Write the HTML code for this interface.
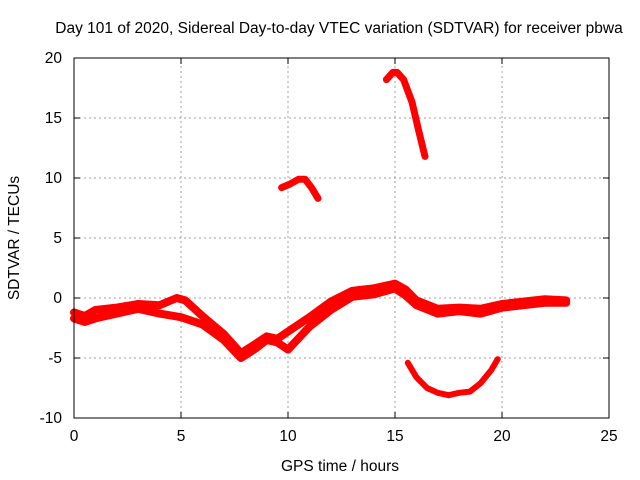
<!DOCTYPE html>
<html><head><meta charset="utf-8"><style>
body{margin:0;background:#fff}
svg{display:block;font-family:"Liberation Sans",sans-serif;font-size:15.5px}
</style></head><body>
<svg id="c" width="640" height="480" xmlns="http://www.w3.org/2000/svg">
<text x="339" y="33" text-anchor="middle">Day 101 of 2020, Sidereal Day-to-day VTEC variation (SDTVAR) for receiver pbwa</text>
<text x="340" y="471" text-anchor="middle">GPS time / hours</text>
<text transform="translate(19,238) rotate(-90)" text-anchor="middle">SDTVAR / TECUs</text>
<g id="grid"></g><g id="ticks"></g><g id="series"></g>
<rect x="74" y="58" width="535" height="360" fill="none" stroke="#000"/>
</svg>
<script>
const xTicks=[0,5,10,15,20,25];
const yTicks=[-10,-5,0,5,10,15,20];
const bandUpperH=[0,0.5,1,2,3,4,4.8,5.2,6,7,7.8,8.5,9,9.5,10,11,12,13,14,15,15.5,16,17,18,19,20,21,22,23];
const bandUpperV=[-1.2,-1.5,-1,-0.8,-0.5,-0.6,0,-0.2,-1.5,-3,-4.6,-3.8,-3.2,-3.4,-2.8,-1.6,-0.3,0.6,0.8,1.2,0.7,-0.2,-0.9,-0.8,-0.9,-0.5,-0.3,-0.1,-0.2];
const bandLowerH=[0,0.5,1,2,3,4,5,6,7,7.8,8.5,9,9.5,10,11,12,13,14,15,15.5,16,17,18,19,20,21,22,23];
const bandLowerV=[-1.7,-2,-1.7,-1.3,-0.9,-1.3,-1.6,-2.2,-3.5,-5,-4.2,-3.5,-3.7,-4.3,-2.4,-1,0.1,0.3,0.8,0.2,-0.6,-1.3,-1.1,-1.3,-0.8,-0.6,-0.4,-0.4];
const arc1H=[9.7,10.1,10.5,10.8,11.1,11.4];
const arc1V=[9.2,9.5,9.9,9.9,9.2,8.3];
const arc2H=[14.6,14.9,15.1,15.4,15.8,16.1,16.4];
const arc2V=[18.2,18.8,18.8,18.2,16.3,14,11.8];
const arc3H=[15.6,16,16.5,17,17.5,18,18.5,19,19.5,19.8];
const arc3V=[-5.4,-6.6,-7.5,-7.9,-8.1,-7.9,-7.8,-7.1,-6,-5.1];
const X0=74,X1=609,Y0=418,Y1=58,xmin=0,xmax=25,ymin=-10,ymax=20;
const sx=h=>X0+(h-xmin)/(xmax-xmin)*(X1-X0);
const sy=v=>Y0-(v-ymin)/(ymax-ymin)*(Y0-Y1);
const NS="http://www.w3.org/2000/svg";
function mk(tag,attrs,parent){const e=document.createElementNS(NS,tag);for(const k in attrs)e.setAttribute(k,attrs[k]);document.getElementById(parent).appendChild(e);return e;}
xTicks.forEach(t=>{
  if(t>0&&t<25){const g=mk('line',{x1:sx(t),x2:sx(t),y1:Y0,y2:Y1,stroke:'#a0a0a0','stroke-dasharray':'2,3'},'grid');
  
  }
  const l=mk('text',{x:sx(t),y:Y0+23,'text-anchor':'middle'},'ticks');l.textContent=t;
  
  
  mk('line',{x1:sx(t),x2:sx(t),y1:Y0,y2:Y0-6,stroke:'#000'},'ticks');
  mk('line',{x1:sx(t),x2:sx(t),y1:Y1,y2:Y1+6,stroke:'#000'},'ticks');
});
yTicks.forEach(t=>{
  if(t>-10&&t<20){const g=mk('line',{x1:X0,x2:X1,y1:sy(t),y2:sy(t),stroke:'#a0a0a0','stroke-dasharray':'2,3'},'grid');
  
  }
  const l=mk('text',{x:X0-12,y:sy(t)+5,'text-anchor':'end'},'ticks');l.textContent=t;
  
  
  mk('line',{x1:X0,x2:X0+6,y1:sy(t),y2:sy(t),stroke:'#000'},'ticks');
  mk('line',{x1:X1,x2:X1-6,y1:sy(t),y2:sy(t),stroke:'#000'},'ticks');
});
function series(H,V,name,w){
  const d=H.map((h,i)=>(i?'L':'M')+sx(h).toFixed(1)+','+sy(V[i]).toFixed(1)).join('');
  const p=mk('path',{d:d,fill:'none',stroke:'#ff0000','stroke-width':w,'stroke-linejoin':'round','stroke-linecap':'round'},'series');
  
  
}
series(bandUpperH,bandUpperV,'series-band-upper',8);
series(bandLowerH,bandLowerV,'series-band-lower',8);
series(arc1H,arc1V,'series-arc-10h',7);
series(arc2H,arc2V,'series-arc-15h',7);
series(arc3H,arc3V,'series-arc-low',6);
</script>
</body></html>
